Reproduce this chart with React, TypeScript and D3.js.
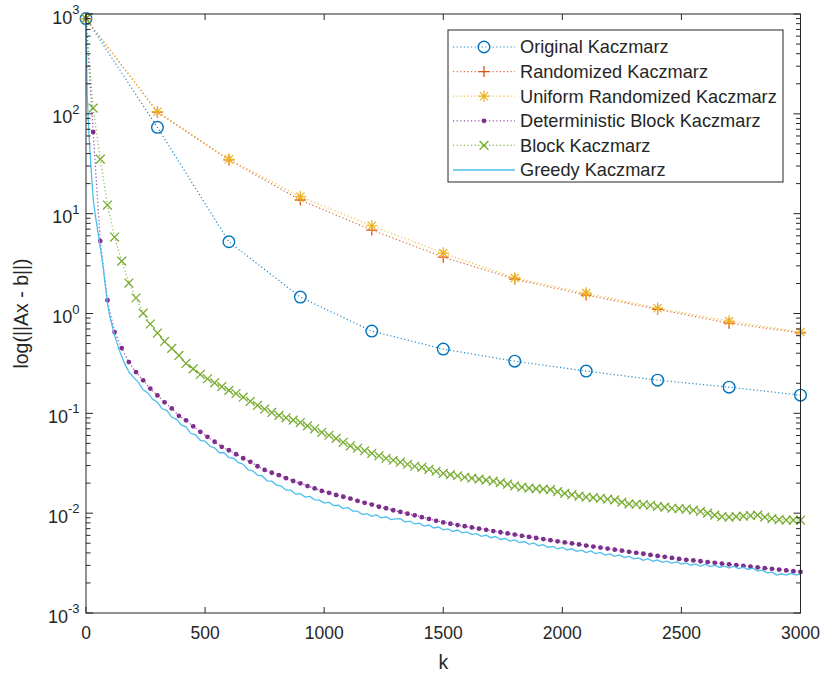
import React from "react";
import * as d3 from "d3";

// Iteration indices at which each method's residual was recorded
const sparseIters = d3.range(0, 3001, 300);
const blockIters = d3.range(0, 3001, 30);
const greedyIters = [0, 5, 10, 15, 20, 30, 40, 50, 60, 70, 80, 90, 100, ...d3.range(120, 3001, 20)];

// Residual norms ||Ax - b||
const originalKaczmarz = [900, 73.3, 5.23, 1.46, 0.667, 0.44, 0.333, 0.265, 0.215, 0.183, 0.152];
const randomizedKaczmarz = [900, 104, 34.5, 13.7, 6.85, 3.67, 2.21, 1.53, 1.10, 0.80, 0.64];
const uniformRandomizedKaczmarz = [900, 105, 35.0, 14.8, 7.57, 4.03, 2.27, 1.60, 1.13, 0.84, 0.652];

const deterministicBlockKaczmarz = [
  900, 65.8, 5.31, 1.36, 0.652, 0.450, 0.326, 0.259, 0.214, 0.177,
  0.151, 0.129, 0.112, 0.0944, 0.0851, 0.0741, 0.0653, 0.0582, 0.0519, 0.0462,
  0.0427, 0.0389, 0.0355, 0.0327, 0.0295, 0.0271, 0.0254, 0.0240, 0.0224, 0.0210,
  0.0199, 0.0187, 0.0177, 0.0167, 0.0160, 0.0152, 0.0146, 0.0140, 0.0133, 0.0127,
  0.0122, 0.0116, 0.0112, 0.0107, 0.0103, 0.00989, 0.00951, 0.00912, 0.00875, 0.00839,
  0.00807, 0.00783, 0.00760, 0.00740, 0.00719, 0.00700, 0.00681, 0.00662, 0.00644, 0.00627,
  0.00610, 0.00593, 0.00578, 0.00564, 0.00550, 0.00536, 0.00522, 0.00509, 0.00498, 0.00486,
  0.00474, 0.00463, 0.00452, 0.00442, 0.00431, 0.00421, 0.00410, 0.00401, 0.00392, 0.00382,
  0.00373, 0.00365, 0.00356, 0.00348, 0.00341, 0.00336, 0.00330, 0.00324, 0.00318, 0.00313,
  0.00307, 0.00302, 0.00296, 0.00292, 0.00286, 0.00281, 0.00277, 0.00272, 0.00267, 0.00262,
  0.00258,
];

const blockKaczmarz = [
  900, 114, 35.2, 12.2, 5.83, 3.35, 2.02, 1.43, 1.01, 0.785,
  0.637, 0.525, 0.447, 0.380, 0.316, 0.279, 0.245, 0.222, 0.202, 0.185,
  0.170, 0.158, 0.145, 0.132, 0.120, 0.110, 0.102, 0.0955, 0.0902, 0.0855,
  0.0809, 0.0750, 0.0700, 0.0646, 0.0603, 0.0562, 0.0513, 0.0473, 0.0447, 0.0422,
  0.0398, 0.0376, 0.0355, 0.0339, 0.0324, 0.0309, 0.0295, 0.0288, 0.0275, 0.0263,
  0.0251, 0.0243, 0.0237, 0.0229, 0.0224, 0.0219, 0.0214, 0.0209, 0.0202, 0.0195,
  0.0188, 0.0182, 0.0178, 0.0176, 0.0174, 0.0172, 0.0164, 0.0158, 0.0153, 0.0148,
  0.0145, 0.0143, 0.0141, 0.0138, 0.0136, 0.0129, 0.0124, 0.0123, 0.0122, 0.0120,
  0.0117, 0.0115, 0.0112, 0.0111, 0.0110, 0.0107, 0.0104, 0.0100, 0.00955, 0.00923,
  0.00912, 0.00923, 0.00933, 0.00944, 0.00955, 0.00912, 0.00881, 0.00861, 0.00851, 0.00851,
  0.00851,
];

const greedyKaczmarz = [
  900, 158, 79.4, 49.0, 31.6, 14.1, 9.33, 6.61, 4.57, 3.16, 2.0, 1.26, 0.933,
  0.603, 0.427, 0.324, 0.260, 0.229, 0.204, 0.172, 0.160, 0.138, 0.129,
  0.111, 0.1064, 0.0912, 0.0871, 0.0767, 0.0733, 0.0631, 0.0610, 0.0537, 0.0527,
  0.0468, 0.0452, 0.0403, 0.0403, 0.0359, 0.0355, 0.0320, 0.0309, 0.0272, 0.0266,
  0.0240, 0.0236, 0.0211, 0.0209, 0.0191, 0.0187, 0.0170, 0.0170, 0.0155, 0.0157,
  0.0145, 0.0147, 0.0136, 0.0135, 0.0126, 0.0129, 0.0119, 0.0120, 0.0111, 0.0114,
  0.0105, 0.0105, 0.00971, 0.00989, 0.00929, 0.00959, 0.00899, 0.00920, 0.00863, 0.00877,
  0.00881, 0.00813, 0.00832, 0.00780, 0.00794, 0.00741, 0.00762, 0.00711, 0.00726, 0.00681,
  0.00697, 0.00656, 0.00678, 0.00635, 0.00650, 0.00610, 0.00624, 0.00586, 0.00603, 0.00568,
  0.00583, 0.00545, 0.00557, 0.00525, 0.00540, 0.00508, 0.00520, 0.00488, 0.00504, 0.00472,
  0.00483, 0.00453, 0.00465, 0.00439, 0.00454, 0.00428, 0.00440, 0.00414, 0.00426, 0.00403,
  0.00418, 0.00393, 0.00404, 0.00380, 0.00390, 0.00369, 0.00382, 0.00360, 0.00369, 0.00348,
  0.00356, 0.00337, 0.00350, 0.00330, 0.00340, 0.00321, 0.00330, 0.00314, 0.00327, 0.00309,
  0.00318, 0.00301, 0.00310, 0.00294, 0.00308, 0.00292, 0.00302, 0.00286, 0.00296, 0.00282,
  0.00295, 0.00279, 0.00288, 0.00273, 0.00281, 0.00263, 0.00269, 0.00252, 0.00257, 0.00240,
  0.00247, 0.00240, 0.00250, 0.00241, 0.00244,
];

const xTickValues = [0, 500, 1000, 1500, 2000, 2500, 3000];
const yExponents = [-3, -2, -1, 0, 1, 2, 3];

type MarkerType = "o" | "+" | "*" | "." | "x" | "none";

interface Series {
  name: string;
  iters: number[];
  values: number[];
  color: string;
  marker: MarkerType;
  dotted: boolean;
}

const series: Series[] = [
  { name: "Original Kaczmarz", iters: sparseIters, values: originalKaczmarz, color: "#0072BD", marker: "o", dotted: true },
  { name: "Randomized Kaczmarz", iters: sparseIters, values: randomizedKaczmarz, color: "#D95319", marker: "+", dotted: true },
  { name: "Uniform Randomized Kaczmarz", iters: sparseIters, values: uniformRandomizedKaczmarz, color: "#EDB120", marker: "*", dotted: true },
  { name: "Deterministic Block Kaczmarz", iters: blockIters, values: deterministicBlockKaczmarz, color: "#7E2F8E", marker: ".", dotted: true },
  { name: "Block Kaczmarz", iters: blockIters, values: blockKaczmarz, color: "#77AC30", marker: "x", dotted: true },
  { name: "Greedy Kaczmarz", iters: greedyIters, values: greedyKaczmarz, color: "#4DBEEE", marker: "none", dotted: false },
];

const FONT = "'Liberation Sans', Arial, Helvetica, sans-serif";
const INK = "#262626";
const DOTS = "1.2,2.4";

function Marker({ type, cx, cy, color }: { type: MarkerType; cx: number; cy: number; color: string }) {
  switch (type) {
    case "o":
      return <circle cx={cx} cy={cy} r={5.8} fill="none" stroke={color} strokeWidth={1.4} />;
    case "+":
      return (
        <path d={`M${cx - 5.5},${cy}H${cx + 5.5}M${cx},${cy - 5.5}V${cy + 5.5}`} stroke={color} strokeWidth={1.3} fill="none" />
      );
    case "*": {
      const a = 5.8;
      const b = 4.1;
      return (
        <path
          d={`M${cx - a},${cy}H${cx + a}M${cx},${cy - a}V${cy + a}M${cx - b},${cy - b}L${cx + b},${cy + b}M${cx - b},${cy + b}L${cx + b},${cy - b}`}
          stroke={color}
          strokeWidth={1.2}
          fill="none"
        />
      );
    }
    case ".":
      return <circle cx={cx} cy={cy} r={2.4} fill={color} />;
    case "x": {
      const s = 4.4;
      return (
        <path d={`M${cx - s},${cy - s}L${cx + s},${cy + s}M${cx - s},${cy + s}L${cx + s},${cy - s}`} stroke={color} strokeWidth={1.3} fill="none" />
      );
    }
    default:
      return null;
  }
}

export default function App() {
  const width = 824;
  const height = 679;
  const left = 86;
  const right = 800.5;
  const top = 14;
  const bottom = 613;

  const x = d3.scaleLinear().domain([0, 3000]).range([left, right]);
  const y = d3.scaleLog().domain([1e-3, 1e3]).range([bottom, top]);

  const line = d3
    .line<[number, number]>()
    .x((d) => x(d[0]))
    .y((d) => y(d[1]));

  const minorTicks: number[] = [];
  for (let e = -3; e < 3; e++) {
    for (let m = 2; m <= 9; m++) minorTicks.push(m * Math.pow(10, e));
  }

  const legendX = 448;
  const legendY = 30;
  const legendW = 335;
  const legendH = 152;
  const rowH = 24.6;

  return (
    <svg
      width={width}
      height={height}
      style={{ position: "absolute", left: 0, top: 0, background: "#fff" }}
      fontFamily={FONT}
    >
      <rect x={0} y={0} width={width} height={height} fill="#fff" />

      {/* convergence curves */}
      {series.map((s) => {
        const pts = s.iters.map((k, i) => [k, s.values[i]] as [number, number]);
        return (
          <g key={s.name}>
            <path
              d={line(pts) || ""}
              fill="none"
              stroke={s.color}
              strokeWidth={s.dotted ? 1.2 : 1.3}
              strokeOpacity={s.dotted ? 0.85 : 1}
              strokeDasharray={s.dotted ? DOTS : undefined}
            />
            {s.marker !== "none" &&
              pts.map((p, i) => <Marker key={i} type={s.marker} cx={x(p[0])} cy={y(p[1])} color={s.color} />)}
          </g>
        );
      })}

      {/* axes box */}
      <rect x={left} y={top} width={right - left} height={bottom - top} fill="none" stroke={INK} strokeWidth={1} />

      {/* x ticks */}
      {xTickValues.map((v) => (
        <g key={`xt${v}`}>
          <line x1={x(v)} x2={x(v)} y1={bottom} y2={bottom - 6} stroke={INK} strokeWidth={1} />
          <line x1={x(v)} x2={x(v)} y1={top} y2={top + 6} stroke={INK} strokeWidth={1} />
          <text x={x(v)} y={bottom + 26} textAnchor="middle" fontSize={17.5} fill={INK}>
            {v}
          </text>
        </g>
      ))}

      {/* y ticks */}
      {yExponents.map((e) => {
        const v = Math.pow(10, e);
        return (
          <g key={`yt${e}`}>
            <line x1={left} x2={left + 7} y1={y(v)} y2={y(v)} stroke={INK} strokeWidth={1} />
            <line x1={right} x2={right - 7} y1={y(v)} y2={y(v)} stroke={INK} strokeWidth={1} />
            <text x={79.5} y={y(v) + 9.5} textAnchor="end" fontSize={18} fill={INK}>
              10
              <tspan dy={-9.5} fontSize={13}>
                {e}
              </tspan>
            </text>
          </g>
        );
      })}
      {minorTicks.map((v, i) => (
        <g key={`ym${i}`}>
          <line x1={left} x2={left + 4.5} y1={y(v)} y2={y(v)} stroke={INK} strokeWidth={1} />
          <line x1={right} x2={right - 4.5} y1={y(v)} y2={y(v)} stroke={INK} strokeWidth={1} />
        </g>
      ))}

      {/* axis labels */}
      <text x={(left + right) / 2} y={669} textAnchor="middle" fontSize={19.5} fill={INK}>
        k
      </text>
      <text
        transform={`translate(28,${(top + bottom) / 2}) rotate(-90)`}
        textAnchor="middle"
        fontSize={19.5}
        fill={INK}
      >
        log(||Ax - b||)
      </text>

      {/* legend */}
      <rect x={legendX} y={legendY} width={legendW} height={legendH} fill="#fff" stroke={INK} strokeWidth={1} />
      {series.map((s, i) => {
        const cy = 47 + i * rowH;
        return (
          <g key={`lg${s.name}`}>
            <line
              x1={453}
              x2={515}
              y1={cy}
              y2={cy}
              stroke={s.color}
              strokeWidth={s.dotted ? 1.2 : 1.3}
              strokeOpacity={s.dotted ? 0.85 : 1}
              strokeDasharray={s.dotted ? DOTS : undefined}
            />
            <Marker type={s.marker} cx={484} cy={cy} color={s.color} />
            <text x={520} y={cy} dy="0.35em" fontSize={18.2} fill={INK}>
              {s.name}
            </text>
          </g>
        );
      })}
    </svg>
  );
}
